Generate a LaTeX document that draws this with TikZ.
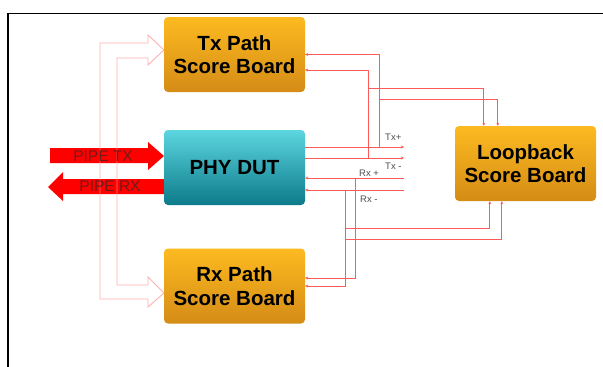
\documentclass[tikz,border=0pt]{standalone}
\usepackage{fontspec}
\setmainfont{Liberation Sans}
\usetikzlibrary{calc,arrows.meta}
\definecolor{oTop}{RGB}{253,186,32}
\definecolor{oBot}{RGB}{212,140,22}
\definecolor{cTop}{RGB}{92,214,224}
\definecolor{cBot}{RGB}{12,122,138}
\definecolor{sigred}{RGB}{255,90,90}
\definecolor{hollowred}{RGB}{255,150,150}
\definecolor{pipered}{RGB}{255,0,0}
\definecolor{pipetext}{RGB}{115,25,25}
\definecolor{lblgray}{RGB}{80,80,80}
\tikzset{
  board/.style={rounded corners=4pt, minimum width=141pt, minimum height=75pt,
    align=center, inner sep=0pt,
    font=\fontsize{20.5}{23.5}\selectfont\bfseries, text=black},
  obox/.style={board, top color=oTop, bottom color=oBot},
  cbox/.style={board, top color=cTop, bottom color=cBot},
  sig/.style={draw=sigred, line width=0.8pt},
  sigtip/.style={sig, -{Stealth[length=3pt,width=3pt]}},
  hollow/.style={draw=hollowred, line width=0.9pt},
  pipe/.style={fill=pipered, draw=none},
  pipelbl/.style={text=pipetext, font=\fontsize{15.5}{17}\selectfont, inner sep=0pt},
  lbl/.style={text=lblgray, font=\fontsize{9.5}{11}\selectfont, inner sep=0pt, anchor=base west}
}
\begin{document}
\begin{tikzpicture}[x=1pt,y=-1pt]
\useasboundingbox (0,0) rectangle (603,367);
\fill[white] (0,0) rectangle (603,367);
\draw[line width=1.5pt] (7.75,367) -- (7.75,13.5) -- (603,13.5);

% PIPE arrows
\fill[pipe] (50,148) -- (148,148) -- (148,142) -- (164,156) -- (148,170) -- (148,163) -- (50,163) -- cycle;
\fill[pipe] (164,179) -- (63,179) -- (63,172) -- (48,187) -- (63,201) -- (63,194) -- (164,194) -- cycle;

% hollow feed arrow
\draw[hollow, draw opacity=0.75] (117,58) -- (148,58) -- (148,65) -- (164,50) -- (148,35) -- (148,43)
  -- (100,43) -- (100,299) -- (148,299) -- (148,307) -- (164,293) -- (148,277)
  -- (148,285) -- (117,285) -- cycle;

\node[pipelbl] (ptx) at (103,156) {PIPE TX};
\node[pipelbl] (prx) at (110,186.5) {PIPE RX};

% boxes
\node[obox] (tx) at (234.5,54.5) {Tx Path\\Score Board};
\node[cbox] (phy) at (234.5,167.5) {PHY DUT};
\node[obox] (rx) at (234.5,286) {Rx Path\\Score Board};
\node[obox] (lb) at (525.5,163.5) {Loopback\\Score Board};

% free ends and junctions
\coordinate (txp) at (404,147);
\coordinate (txm) at (404,158);
\coordinate (rxp) at (404,178);
\coordinate (rxm) at (404,190);
\coordinate (j1) at (379,147);
\coordinate (j2) at (368,158);
\coordinate (j3) at (368,88);
\coordinate (j4) at (379,99);
\coordinate (j5) at (355,178);
\coordinate (j6) at (345,190);
\coordinate (j7) at (345,228);
\coordinate (j8) at (345,239);

% PHY lines
\draw[sigtip] (phy.east |- txp) -- (txp);
\draw[sigtip] (phy.east |- txm) -- (txm);
\draw[sigtip] (rxp) -- (phy.east |- rxp);
\draw[sigtip] (rxm) -- (phy.east |- rxm);

% Tx scoreboard taps
\draw[sigtip] (j1) |- (tx.east);
\draw[sigtip] (j2) |- ($(tx.east)+(0,15.5)$);
\draw[sigtip] (j3) -| ($(lb.north west)+(29,0)$);
\draw[sigtip] (j4) -| ($(lb.north west)+(43,0)$);

% Rx scoreboard taps
\draw[sigtip] (j5) |- ($(rx.east)+(0,-8)$);
\draw[sigtip] (j6) |- (rx.east);
\draw[sigtip] (j7) -| ($(lb.south west)+(35,0)$);
\draw[sigtip] (j8) -| ($(lb.south west)+(47,0)$);

% labels
\node[lbl] (ltxp) at (385,140) {Tx+};
\node[lbl] (ltxm) at (385,169) {Tx -};
\node[lbl] (lrxp) at (359,176.5) {Rx +};
\node[lbl] (lrxm) at (360,202) {Rx -};
\end{tikzpicture}
\end{document}
